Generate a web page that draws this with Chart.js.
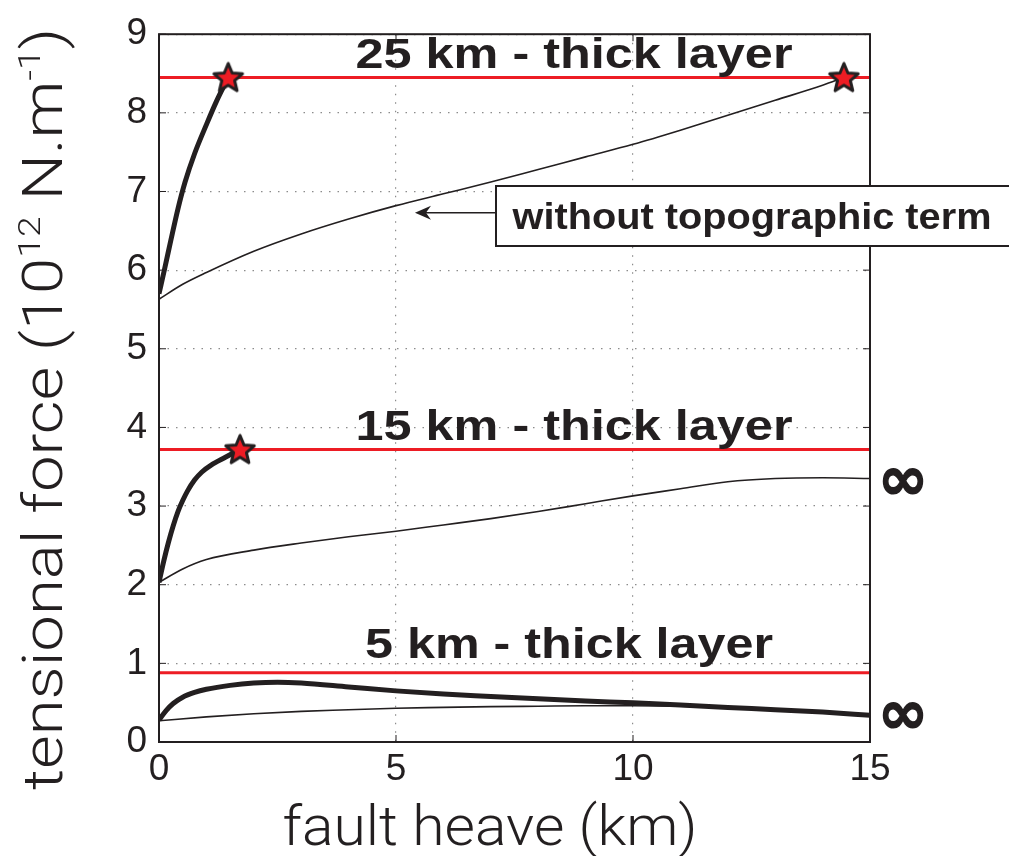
<!DOCTYPE html>
<html>
<head>
<meta charset="utf-8">
<script src="https://cdn.jsdelivr.net/npm/chart.js@4.4.1/dist/chart.umd.min.js"></script>
<style>
  html, body { margin: 0; padding: 0; background: #fff; }
  #wrap { width: 1009px; height: 856px; }
</style>
</head>
<body>
<div id="wrap"><canvas id="forceChart"></canvas></div>
<script>
// layer force limits (red lines)
const layerNames = ["25 km - thick layer", "15 km - thick layer", "5 km - thick layer"];
const layerLevels = [8.45, 3.72, 0.88];

// 25 km layer
const thick25X = [0, 0.12, 0.25, 0.4, 0.55, 0.75, 1.0, 1.2, 1.46];
const thick25Y = [5.70, 6.02, 6.38, 6.78, 7.12, 7.48, 7.85, 8.13, 8.45];
const thin25X = [0, 0.5, 1, 2, 3, 4, 5, 6, 7, 8, 9, 10, 11, 12, 13, 14, 14.45];
const thin25Y = [5.63, 5.82, 5.97, 6.24, 6.46, 6.65, 6.82, 6.97, 7.12, 7.28, 7.44, 7.60, 7.78, 7.97, 8.16, 8.35, 8.45];

// 15 km layer
const thick15X = [0, 0.1, 0.2, 0.3, 0.4, 0.5, 0.6, 0.75, 0.9, 1.1, 1.4, 1.71];
const thick15Y = [2.03, 2.3, 2.54, 2.75, 2.93, 3.07, 3.19, 3.33, 3.43, 3.52, 3.62, 3.72];
const thin15X = [0, 0.5, 1, 2, 3, 4, 5, 6, 7, 8, 9, 10, 11, 12, 13, 14, 15];
const thin15Y = [2.03, 2.2, 2.32, 2.44, 2.53, 2.61, 2.68, 2.76, 2.84, 2.93, 3.03, 3.13, 3.22, 3.31, 3.35, 3.36, 3.35];

// 5 km layer
const thick5X = [0, 0.15, 0.3, 0.5, 0.75, 1, 1.5, 2, 2.5, 3, 4, 5, 6, 7, 8, 9, 10, 11, 12, 13, 14, 15];
const thick5Y = [0.28, 0.4, 0.49, 0.57, 0.63, 0.67, 0.72, 0.75, 0.76, 0.75, 0.70, 0.65, 0.61, 0.58, 0.55, 0.52, 0.50, 0.47, 0.44, 0.41, 0.38, 0.34];
const thin5X = [0, 1, 2, 3, 4, 5, 6, 7, 8, 9, 10, 11, 12, 13, 14, 15];
const thin5Y = [0.27, 0.32, 0.36, 0.39, 0.41, 0.43, 0.44, 0.45, 0.455, 0.46, 0.46, 0.455, 0.44, 0.41, 0.38, 0.35];

// stars where curves reach the limit
const starX = [1.46, 14.45, 1.71];
const starY = [8.45, 8.45, 3.72];

const xTicks = [0, 5, 10, 15];
const yTicks = [0, 1, 2, 3, 4, 5, 6, 7, 8, 9];

const INK = "#231f20";
const RED = "#ed1c24";

const toPoints = (xs, ys) => xs.map((x, i) => ({ x: x, y: ys[i] }));

// filled star marker
function makeStar(r) {
  const c = document.createElement("canvas");
  const s = Math.ceil(r * 2 + 6);
  c.width = s;
  c.height = s;
  const g = c.getContext("2d");
  g.translate(s / 2, s / 2 + 1);
  g.beginPath();
  for (let i = 0; i < 10; i++) {
    const rad = i % 2 === 0 ? r : r * 0.45;
    const a = -Math.PI / 2 + (i * Math.PI) / 5;
    g.lineTo(rad * Math.cos(a), rad * Math.sin(a));
  }
  g.closePath();
  g.fillStyle = RED;
  g.fill();
  g.lineWidth = 3;
  g.lineJoin = "round";
  g.strokeStyle = INK;
  g.stroke();
  return c;
}
const starImg = makeStar(15);

function fitText(ctx, text, cx, baseline, width, font) {
  ctx.save();
  ctx.font = font;
  const w = ctx.measureText(text).width;
  ctx.translate(cx, baseline);
  ctx.scale(width / w, 1);
  ctx.textAlign = "center";
  ctx.textBaseline = "alphabetic";
  ctx.fillText(text, 0, 0);
  ctx.restore();
}

// glyph centred on a point using its ink box, scaled to a given ink width
function centerGlyph(ctx, text, cx, cy, inkWidth, font) {
  ctx.save();
  ctx.font = font;
  ctx.textAlign = "left";
  ctx.textBaseline = "alphabetic";
  const m = ctx.measureText(text);
  const w = m.actualBoundingBoxRight + m.actualBoundingBoxLeft;
  const h = m.actualBoundingBoxAscent + m.actualBoundingBoxDescent;
  const k = inkWidth / w;
  ctx.translate(cx, cy);
  ctx.scale(k, k);
  ctx.lineWidth = 1.5;
  ctx.lineJoin = "round";
  const px = -w / 2 + m.actualBoundingBoxLeft;
  const py = h / 2 - m.actualBoundingBoxDescent;
  ctx.fillText(text, px, py);
  ctx.strokeText(text, px, py);
  ctx.restore();
}

const extras = {
  id: "extras",
  afterDraw(chart) {
    const ctx = chart.ctx;
    const xs = chart.scales.x;
    const ys = chart.scales.y;
    const a = chart.chartArea;
    ctx.save();
    ctx.fillStyle = INK;
    ctx.strokeStyle = INK;

    // frame and inward ticks
    ctx.lineWidth = 2;
    ctx.strokeRect(a.left, a.top, a.right - a.left, a.bottom - a.top);
    ctx.lineWidth = 1;
    ctx.beginPath();
    xTicks.forEach((v) => {
      const p = xs.getPixelForValue(v);
      ctx.moveTo(p, a.bottom); ctx.lineTo(p, a.bottom - 7);
      ctx.moveTo(p, a.top); ctx.lineTo(p, a.top + 7);
    });
    yTicks.forEach((v) => {
      const p = ys.getPixelForValue(v);
      ctx.moveTo(a.left, p); ctx.lineTo(a.left + 7, p);
      ctx.moveTo(a.right, p); ctx.lineTo(a.right - 7, p);
    });
    ctx.stroke();

    // layer titles above the red lines
    const titleFont = "bold 42px 'Liberation Sans', Arial, sans-serif";
    fitText(ctx, layerNames[0], 574, ys.getPixelForValue(layerLevels[0]) - 9, 437, titleFont);
    fitText(ctx, layerNames[1], 574, ys.getPixelForValue(layerLevels[1]) - 9, 437, titleFont);
    fitText(ctx, layerNames[2], 569, ys.getPixelForValue(layerLevels[2]) - 15, 408, titleFont);

    // infinity marks at right end of the curves that never reach the limit
    const infFont = "bold 60px 'DejaVu Sans', sans-serif";
    centerGlyph(ctx, "\u221e", 903, ys.getPixelForValue(thin15Y[thin15Y.length - 1]) + 2, 40, infFont);
    centerGlyph(ctx, "\u221e", 903, ys.getPixelForValue(thick5Y[thick5Y.length - 1]), 40, infFont);

    // annotation box and arrow
    const tipX = xs.getPixelForValue(5.4);
    const tipY = ys.getPixelForValue(6.73);
    ctx.fillStyle = "#fff";
    ctx.fillRect(496, 186, 520, 60);
    ctx.lineWidth = 2;
    ctx.strokeRect(496, 186, 520, 60);
    ctx.fillStyle = INK;
    fitText(ctx, "without topographic term", 752, 229, 479, "bold 36px 'Liberation Sans', Arial, sans-serif");
    ctx.lineWidth = 1.5;
    ctx.beginPath();
    ctx.moveTo(496, tipY);
    ctx.lineTo(tipX + 10, tipY);
    ctx.stroke();
    ctx.beginPath();
    ctx.moveTo(tipX, tipY);
    ctx.lineTo(tipX + 16, tipY - 7);
    ctx.lineTo(tipX + 11, tipY);
    ctx.lineTo(tipX + 16, tipY + 7);
    ctx.closePath();
    ctx.fill();

    // axis titles
    const labFont = "300 56px Roboto, 'Liberation Sans', sans-serif";
    fitText(ctx, "fault heave (km)", 490, 845, 415, labFont);

    const parts = [
      ["tensional force (10", 56, 0],
      ["12", 32, 22],
      [" N.m", 56, 0],
      ["-1", 32, 22],
      [")", 56, 0],
    ];
    let total = 0;
    const widths = parts.map(([t, s]) => {
      ctx.font = "300 " + s + "px Roboto, 'Liberation Sans', sans-serif";
      const w = ctx.measureText(t).width;
      total += w;
      return w;
    });
    ctx.save();
    ctx.translate(62, 409);
    ctx.rotate(-Math.PI / 2);
    const k = 762 / total;
    ctx.scale(k, 1);
    let pos = -total / 2;
    ctx.textAlign = "left";
    ctx.textBaseline = "alphabetic";
    parts.forEach(([t, s, up], i) => {
      ctx.font = "300 " + s + "px Roboto, 'Liberation Sans', sans-serif";
      ctx.fillText(t, pos, -up);
      pos += widths[i];
    });
    ctx.restore();

    ctx.restore();
  },
};

const thinLine = { borderColor: INK, borderWidth: 1.6, pointRadius: 0, showLine: true, fill: false, cubicInterpolationMode: "monotone", order: 2 };
const thickLine = { borderColor: INK, borderWidth: 5, pointRadius: 0, showLine: true, fill: false, cubicInterpolationMode: "monotone", order: 1 };
const redLine = { borderColor: RED, borderWidth: 3, pointRadius: 0, showLine: true, fill: false, order: 3 };

const datasets = [
  { ...redLine, label: layerNames[0], data: toPoints([0, 15], [layerLevels[0], layerLevels[0]]) },
  { ...redLine, label: layerNames[1], data: toPoints([0, 15], [layerLevels[1], layerLevels[1]]) },
  { ...redLine, label: layerNames[2], data: toPoints([0, 15], [layerLevels[2], layerLevels[2]]) },
  { ...thinLine, label: "25 km without topo", data: toPoints(thin25X, thin25Y) },
  { ...thickLine, label: "25 km", data: toPoints(thick25X, thick25Y) },
  { ...thinLine, label: "15 km without topo", data: toPoints(thin15X, thin15Y) },
  { ...thickLine, label: "15 km", data: toPoints(thick15X, thick15Y) },
  { ...thinLine, label: "5 km without topo", data: toPoints(thin5X, thin5Y) },
  { ...thickLine, label: "5 km", data: toPoints(thick5X, thick5Y) },
  {
    label: "limit reached",
    data: toPoints(starX, starY),
    showLine: false,
    pointStyle: starImg,
    pointRadius: 15,
    order: 0,
  },
];

const tickFont = { family: "'Liberation Sans', Arial, sans-serif", size: 37 };

new Chart(document.getElementById("forceChart"), {
  type: "scatter",
  data: { datasets: datasets },
  options: {
    responsive: true,
    maintainAspectRatio: false,
    animation: false,
    layout: { padding: { top: 31, right: 139, left: 0, bottom: 0 } },
    plugins: { legend: { display: false }, tooltip: { enabled: false } },
    scales: {
      x: {
        type: "linear",
        min: 0,
        max: 15,
        afterBuildTicks: (s) => { s.ticks = xTicks.map((v) => ({ value: v })); },
        ticks: { color: INK, font: tickFont, padding: 6 },
        grid: { color: "#8c8c8c", lineWidth: 1.2, drawTicks: false },
        border: { display: false, dash: [1.5, 7] },
        afterFit: (s) => { s.height = 114; },
      },
      y: {
        type: "linear",
        min: 0,
        max: 9,
        afterBuildTicks: (s) => { s.ticks = yTicks.map((v) => ({ value: v })); },
        ticks: { color: INK, font: tickFont, padding: 12 },
        grid: { color: "#8c8c8c", lineWidth: 1.2, drawTicks: false },
        border: { display: false, dash: [1.5, 7] },
        afterFit: (s) => { s.width = 159; },
      },
    },
  },
  plugins: [extras],
});
</script>
</body>
</html>
